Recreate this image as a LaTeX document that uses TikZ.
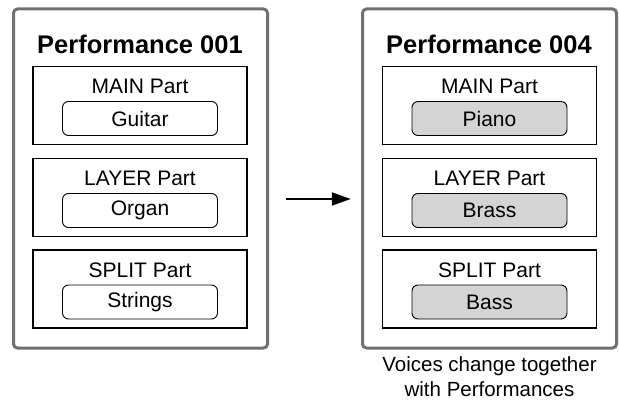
\documentclass[tikz,border=0pt]{standalone}
\usepackage{fontspec}
\setmainfont{Liberation Sans}
\usetikzlibrary{positioning,arrows.meta}
\definecolor{framegray}{rgb}{0.44,0.44,0.44}
\definecolor{voicegray}{rgb}{0.83,0.83,0.83}
\tikzset{
	perfframe/.style={draw=framegray, line width=3pt, rounded corners=4pt,
		minimum width=254pt, minimum height=339pt, inner sep=0pt},
	partbox/.style={draw, line width=1.5pt, minimum width=214pt,
		minimum height=78pt, inner sep=0pt},
	voicebox/.style={draw, line width=0.9pt, rounded corners=6pt,
		minimum width=155pt, minimum height=34pt, inner sep=0pt,
		font=\fontsize{21}{24}\selectfont},
	partlabel/.style={inner sep=0pt, font=\fontsize{21}{24}\selectfont},
	perftitle/.style={inner sep=0pt, font=\fontsize{25.5}{28}\selectfont\bfseries},
	newvoice/.style={voicebox, fill=voicegray},
}

\begin{document}
\begin{tikzpicture}[x=1pt, y=-1pt]
	\useasboundingbox (0,0) rectangle (619,404);
	% performance 001
	\node[perfframe] (frameA) at (140.5,178.5) {};
	\node[perftitle] (titleA) at (140,44) {Performance 001};
	\node[partbox] (mainA) at (140,105.5) {};
	\node[partbox] (layerA) at (140,197.5) {};
	\node[partbox] (splitA) at (140,289) {};
	\node[partlabel] at ([yshift=-21pt]mainA.north) {MAIN Part};
	\node[partlabel] at ([yshift=-21pt]layerA.north) {LAYER Part};
	\node[partlabel] at ([yshift=-21pt]splitA.north) {SPLIT Part};
	\node[voicebox] (guitar) at ([yshift=-13pt]mainA.center) {Guitar};
	\node[voicebox] (organ) at ([yshift=-13pt]layerA.center) {Organ};
	\node[voicebox] (strings) at ([yshift=-13pt]splitA.center) {Strings};
	% performance 004
	\node[perfframe] (frameB) at (489.5,178.5) {};
	\node[perftitle] (titleB) at (489,44) {Performance 004};
	\node[partbox] (mainB) at (489.5,105.5) {};
	\node[partbox] (layerB) at (489.5,197.5) {};
	\node[partbox] (splitB) at (489.5,289) {};
	\node[partlabel] at ([yshift=-21pt]mainB.north) {MAIN Part};
	\node[partlabel] at ([yshift=-21pt]layerB.north) {LAYER Part};
	\node[partlabel] at ([yshift=-21pt]splitB.north) {SPLIT Part};
	\node[newvoice] (piano) at ([yshift=-13pt]mainB.center) {Piano};
	\node[newvoice] (brass) at ([yshift=-13pt]layerB.center) {Brass};
	\node[newvoice] (bass) at ([yshift=-13pt]splitB.center) {Bass};
	% change
	\draw[line width=2pt, -{Triangle[length=19pt, width=13pt]}]
		([xshift=38pt, yshift=-1.5pt]layerA.east) -- ([xshift=-31pt, yshift=-1.5pt]layerB.west);
	\node[align=center, inner sep=0pt, font=\fontsize{20.5}{25}\selectfont,
		below=7pt of frameB.south] (caption) {Voices change together\\with Performances};
\end{tikzpicture}
\end{document}
